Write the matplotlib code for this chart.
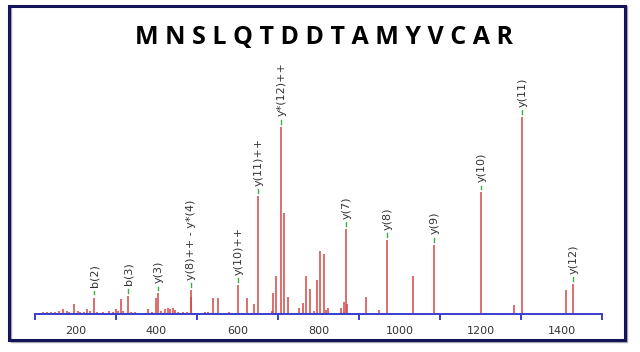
import numpy as np
import matplotlib
matplotlib.use("Agg")
import matplotlib.pyplot as plt
from matplotlib.patches import Rectangle

# sequence and spectrum (m/z, relative intensity %)
sequence = "MNSLQTDDTAMYVCAR"

peak_mz = [120, 130, 140, 150, 160, 170, 178, 185, 197, 205, 212, 220, 228, 235,
           245, 252, 268, 283, 292, 300, 306, 312, 318, 330, 338, 346, 378, 390,
           398, 404, 410, 420, 428, 434, 440, 446, 452, 466, 476, 484, 486, 520,
           528, 540, 553, 578, 600, 624, 640, 651, 684, 688, 695, 707, 714, 725,
           753, 761, 769, 779, 789, 796, 804, 813, 818, 824, 855, 862, 868, 871,
           917, 950, 970, 1033, 1086, 1200, 1283, 1302, 1412, 1429]
peak_int = [1.0, 1.0, 1.2, 1.0, 1.5, 2.5, 1.3, 1.0, 4.9, 1.5, 1.2, 1.0, 2.5, 1.5,
            8.3, 1.0, 1.0, 1.5, 1.0, 2.5, 1.5, 7.6, 1.5, 9.3, 1.0, 1.0, 2.5, 1.0,
            8.3, 10.5, 1.5, 2.5, 3.0, 2.5, 3.0, 2.0, 1.0, 1.0, 1.0, 12.2, 8.8, 1.0,
            1.0, 8.3, 8.3, 1.0, 14.7, 8.3, 4.9, 59.9, 1.5, 10.5, 19.4, 95.1, 51.4, 8.6,
            3.0, 5.4, 19.4, 12.7, 1.3, 17.3, 32.0, 30.7, 1.8, 3.0, 2.9, 5.9, 43.1, 4.9,
            8.8, 1.9, 37.6, 19.3, 35.2, 61.8, 4.7, 100.0, 12.0, 15.2]

label_mz = [245, 330, 404, 484, 600, 651, 707, 868, 970, 1086, 1200, 1302, 1429]
label_text = ["b(2)", "b(3)", "y(3)", "y(8)++ - y*(4)", "y(10)++", "y(11)++",
              "y*(12)++", "y(7)", "y(8)", "y(9)", "y(10)", "y(11)", "y(12)"]

tick_lines = [100, 300, 500, 700, 900, 1100, 1300, 1500]
tick_labels = [200, 400, 600, 800, 1000, 1200, 1400]

W, H = 640, 352
fig = plt.figure(figsize=(W / 100, H / 100), dpi=100)
fig.patch.set_facecolor("white")

# outer frame
fig.add_artist(Rectangle((11 / W, 1 - 342 / H), 616 / W, 336 / H,
                         transform=fig.transFigure, fill=False,
                         edgecolor="#aaaaaa", lw=1.0))
fig.add_artist(Rectangle((9 / W, 1 - 340 / H), 616 / W, 334 / H,
                         transform=fig.transFigure, fill=False,
                         edgecolor="#14145a", lw=2.2))

fig.text(324 / W, 1 - 38 / H, " ".join(sequence), ha="center", va="center",
         fontsize=18, fontweight="bold", family="Open Sans", color="black")

ax = fig.add_axes([35 / W, 1 - 314 / H, 567 / W, 197 / H])
ax.set_xlim(100, 1500)
ax.set_ylim(0, 100)

ax.vlines(peak_mz, 0, peak_int, color="#d64545", lw=1.1)

intens = dict(zip(peak_mz, peak_int))
for mz, txt in zip(label_mz, label_text):
    h = intens[mz]
    ax.plot([mz, mz], [h + 1.6, h + 3.4], color="#3cb043", lw=1.0, clip_on=False)
    ax.annotate(txt, xy=(mz, h), xytext=(0.5, 7.5), textcoords="offset points",
                rotation=90, ha="center", va="bottom", fontsize=8,
                color="#333333", annotation_clip=False)

for s in ["top", "left", "right"]:
    ax.spines[s].set_visible(False)
ax.spines["bottom"].set_color("#3b3bd0")
ax.spines["bottom"].set_linewidth(1.4)
ax.set_yticks([])
ax.set_xticks(tick_labels)
ax.set_xticklabels([str(t) for t in tick_labels])
ax.set_xticks(tick_lines, minor=True)
ax.tick_params(axis="x", which="major", length=0, pad=9, labelsize=8,
               labelcolor="#333333")
ax.tick_params(axis="x", which="minor", length=4, width=1.4, color="#3b3bd0",
               direction="out")
ax.patch.set_alpha(0)

fig.savefig("out.png", dpi=100)
